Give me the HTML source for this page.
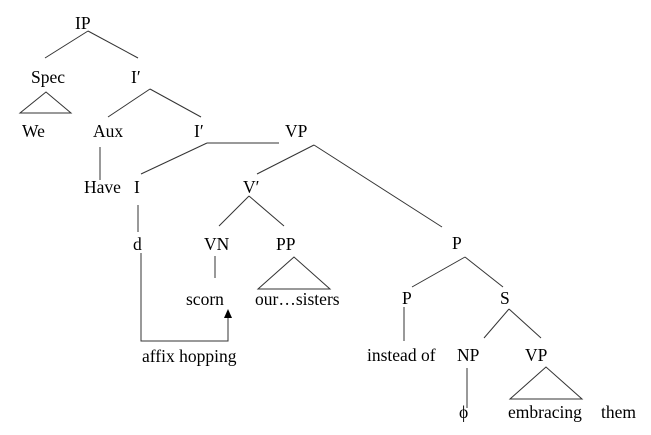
<!DOCTYPE html>
<html><head><meta charset="utf-8"><style>
html,body{margin:0;padding:0;background:#fff;width:651px;height:435px;overflow:hidden}
svg text{font-family:"Liberation Serif",serif;font-size:17.5px;fill:#000}
</style></head><body>
<svg width="651" height="435" viewBox="0 0 651 435" xmlns="http://www.w3.org/2000/svg">
<g stroke="#333" stroke-width="1" fill="none">
<line x1="88" y1="31" x2="45" y2="58"/><line x1="88" y1="31" x2="138" y2="58"/>
<polygon points="46,92 20,113 71,113"/>
<line x1="150" y1="89" x2="108" y2="117"/><line x1="150" y1="89" x2="201" y2="117"/>
<line x1="207" y1="143" x2="279" y2="143"/><line x1="207" y1="143" x2="141" y2="174"/>
<line x1="100" y1="147" x2="100" y2="180"/>
<line x1="314" y1="145" x2="257" y2="174"/><line x1="314" y1="145" x2="442" y2="227"/>
<line x1="138" y1="205" x2="138" y2="232"/>
<line x1="249" y1="196" x2="219" y2="226"/><line x1="249" y1="196" x2="284" y2="226"/>
<line x1="215" y1="256" x2="215" y2="278"/>
<polygon points="294,257 258,289 330,289"/>
<polyline points="141,253 141,341 228,341 228,316"/>
<line x1="465" y1="257" x2="412" y2="287"/><line x1="465" y1="257" x2="503" y2="287"/>
<line x1="404" y1="307" x2="404" y2="341"/>
<line x1="509" y1="309" x2="484" y2="338"/><line x1="509" y1="309" x2="541" y2="338"/>
<line x1="467" y1="368" x2="467" y2="408"/>
<polygon points="546,367 510,399 582,399"/>
</g>
<polygon points="228,309 224,318 232,318" fill="#000"/>
<text x="75" y="29">IP</text>
<text x="31" y="83">Spec</text>
<text x="131" y="83">I′</text>
<text x="22" y="137">We</text>
<text x="93" y="137">Aux</text>
<text x="194" y="137">I′</text>
<text x="285" y="137">VP</text>
<text x="84" y="193">Have</text>
<text x="134" y="193">I</text>
<text x="243" y="193">V′</text>
<text x="133" y="250">d</text>
<text x="204" y="250">VN</text>
<text x="276" y="250">PP</text>
<text x="186" y="305">scorn</text>
<text x="255" y="305">our…sisters</text>
<text x="142" y="362">affix hopping</text>
<text x="452" y="249">P</text>
<text x="402" y="304">P</text>
<text x="500" y="304">S</text>
<text x="367" y="361">instead of</text>
<text x="457" y="361">NP</text>
<text x="525" y="361">VP</text>
<text x="459" y="418">ϕ</text>
<text x="508" y="418">embracing</text>
<text x="601" y="418">them</text>
</svg>
</body></html>
